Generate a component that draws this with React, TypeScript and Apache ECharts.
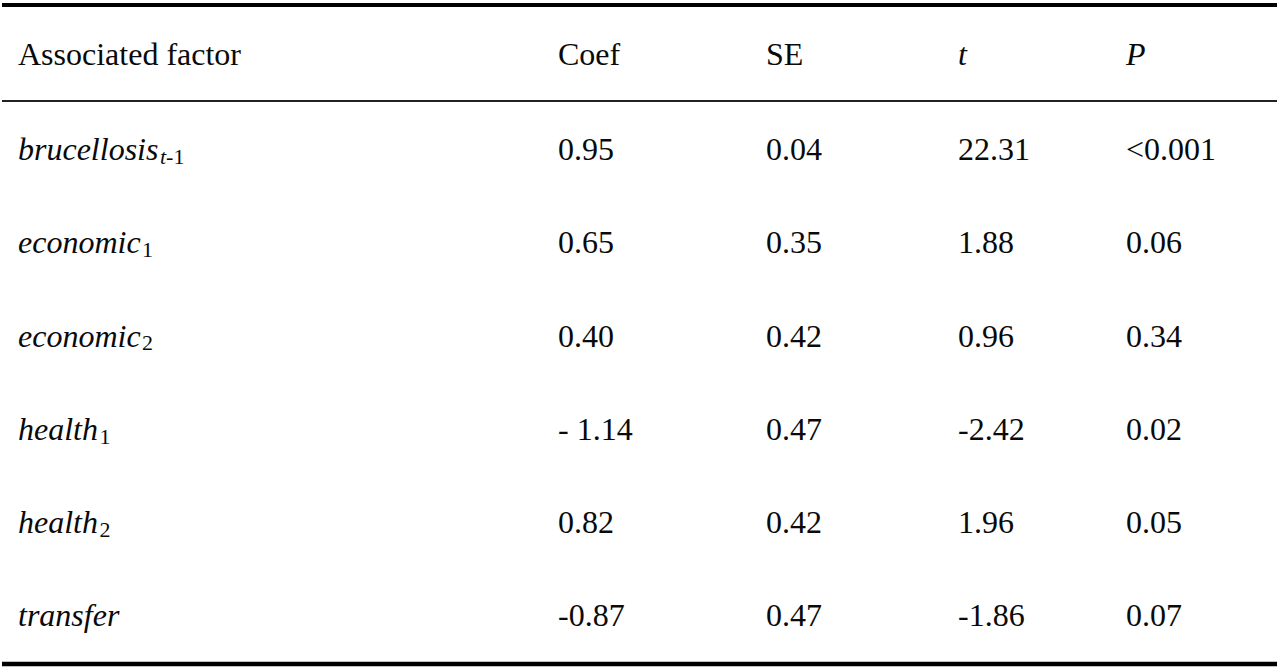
import React, { useEffect, useRef } from "react";
import * as echarts from "echarts";

const headers = ["Associated factor", "Coef", "SE", "t", "P"];
const headerItalic = [false, false, false, true, true];
const factors = ["brucellosis", "economic", "economic", "health", "health", "transfer"];
const factorSubItalic = ["t", "", "", "", "", ""];
const factorSubs = ["-1", "1", "2", "1", "2", ""];
const coef = ["0.95", "0.65", "0.40", "- 1.14", "0.82", "-0.87"];
const se = ["0.04", "0.35", "0.42", "0.47", "0.42", "0.47"];
const tVals = ["22.31", "1.88", "0.96", "-2.42", "1.96", "-1.86"];
const pVals = ["<0.001", "0.06", "0.34", "0.02", "0.05", "0.07"];

const FONT = '"Liberation Serif", "Times New Roman", serif';
const FS = 32;
const SUB_FS = 22;
const COL_X = [18, 558, 766, 958, 1126];
const HEADER_BASE = 65;
const ROW_BASE0 = 160;
const ROW_STEP = 93.2;
const CENTRAL = 0.3375; // central-baseline offset (em) for Liberation Serif

function measure(text: string, italic: boolean, size: number): number {
  const c = document.createElement("canvas").getContext("2d");
  if (!c) return text.length * size * 0.45;
  c.font = `${italic ? "italic " : ""}${size}px ${FONT}`;
  return c.measureText(text).width;
}

function txt(x: number, baseline: number, text: string, italic: boolean, size: number) {
  return {
    type: "text",
    x,
    y: baseline - CENTRAL * size,
    silent: true,
    style: {
      text,
      fill: "#0a0a0a",
      font: `${italic ? "italic " : ""}${size}px ${FONT}`,
      fontFamily: FONT,
      fontSize: size,
      fontStyle: italic ? "italic" : "normal",
      align: "left",
      verticalAlign: "middle",
    },
  };
}

export default function App() {
  const ref = useRef<HTMLDivElement>(null);
  useEffect(() => {
    if (!ref.current) return;
    const chart = echarts.init(ref.current, null, { renderer: "svg" });
    const g: any[] = [];
    // rules
    g.push({ type: "line", silent: true, shape: { x1: 2, y1: 5, x2: 1277, y2: 5 }, style: { stroke: "#000", lineWidth: 4 } });
    g.push({ type: "line", silent: true, shape: { x1: 2, y1: 101, x2: 1277, y2: 101 }, style: { stroke: "#222", lineWidth: 2 } });
    g.push({ type: "line", silent: true, shape: { x1: 2, y1: 664, x2: 1277, y2: 664 }, style: { stroke: "#000", lineWidth: 4.5 } });
    // header
    headers.forEach((h, i) => g.push(txt(COL_X[i], HEADER_BASE, h, headerItalic[i], FS)));
    // rows
    const cols = [coef, se, tVals, pVals];
    factors.forEach((f, r) => {
      const base = ROW_BASE0 + r * ROW_STEP;
      g.push(txt(COL_X[0], base, f, true, FS));
      let x = COL_X[0] + measure(f, true, FS) + 1.5;
      const subBase = base + 4;
      if (factorSubItalic[r]) {
        g.push(txt(x, subBase, factorSubItalic[r], true, SUB_FS));
        x += measure(factorSubItalic[r], true, SUB_FS);
      }
      if (factorSubs[r]) g.push(txt(x, subBase, factorSubs[r], false, SUB_FS));
      cols.forEach((col, c) => g.push(txt(COL_X[c + 1], base, col[r], false, FS)));
    });
    chart.setOption({ animation: false, backgroundColor: "#fff", graphic: g });
    return () => chart.dispose();
  }, []);
  return <div ref={ref} style={{ position: "absolute", left: 0, top: 0, width: 1280, height: 671 }} />;
}
